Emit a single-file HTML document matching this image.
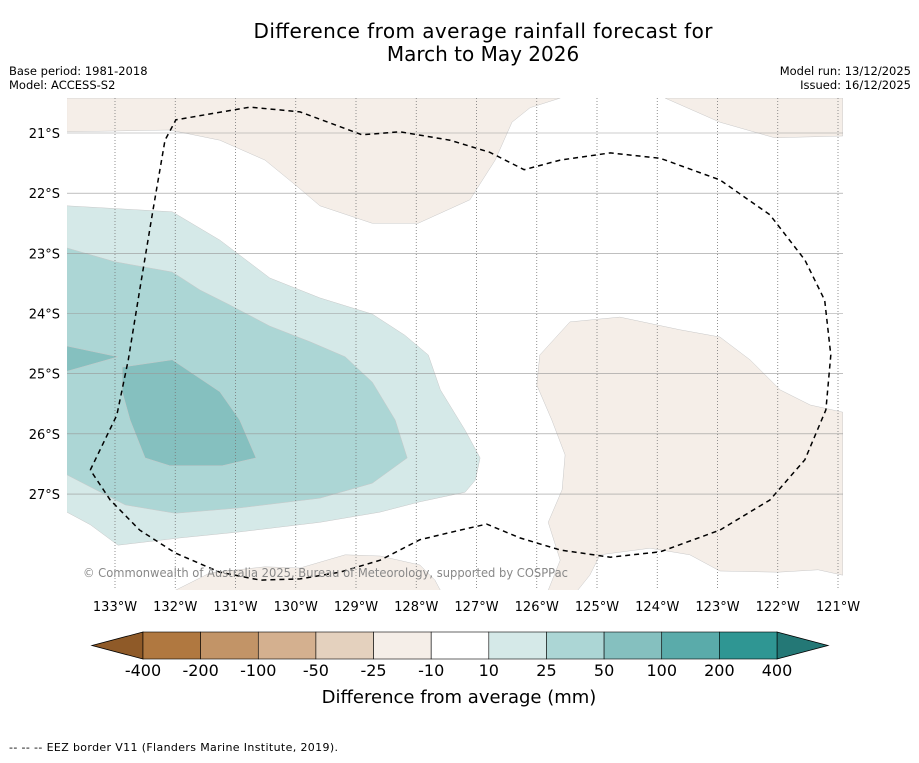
<!DOCTYPE html>
<html><head><meta charset="utf-8"><style>
body{margin:0;background:#fff;width:919px;height:758px;overflow:hidden;font-family:"Liberation Sans","DejaVu Sans",sans-serif}
svg text{font-family:"DejaVu Sans","Liberation Sans",sans-serif}
</style></head><body>
<svg id="chart" width="919" height="758" viewBox="0 0 919 758" xmlns="http://www.w3.org/2000/svg">
<rect width="919" height="758" fill="#fff"/>
<text x="483" y="38" font-size="20" text-anchor="middle" textLength="459">Difference from average rainfall forecast for</text>
<text x="483" y="61" font-size="20" text-anchor="middle">March to May 2026</text>
<text x="9" y="75" font-size="11.5">Base period: 1981-2018</text>
<text x="9" y="89" font-size="11.5">Model: ACCESS-S2</text>
<text x="911" y="75" font-size="11.5" text-anchor="end">Model run: 13/12/2025</text>
<text x="911" y="89" font-size="11.5" text-anchor="end">Issued: 16/12/2025</text>
<defs><clipPath id="mapclip"><rect x="67" y="98" width="776" height="492"/></clipPath></defs>
<g id="map" clip-path="url(#mapclip)"></g>
<g id="axes"></g>
<g id="cbar"></g>
<text x="459" y="703" font-size="18" text-anchor="middle">Difference from average (mm)</text>
<text x="9" y="751" font-size="11" textLength="329">--  --  -- EEZ border V11 (Flanders Marine Institute, 2019).</text>
</svg>
<script>
const lonTicks=[133,132,131,130,129,128,127,126,125,124,123,122,121];
const latTicks=[21,22,23,24,25,26,27];
const cbLevels=["-400","-200","-100","-50","-25","-10","10","25","50","100","200","400"];
const cbColors=["#b07840","#c29467","#d4b08f","#e4d1be","#f5eee8","#ffffff","#d5e9e8","#acd6d5","#85c0bf","#5aabaa","#2f9693"];
const brownTop=[[133.8,20.42],[125.61,20.42],[126.11,20.58],[126.41,20.82],[126.69,21.45],[127.11,22.11],[127.97,22.5],[128.73,22.5],[129.6,22.21],[130.01,21.86],[130.51,21.45],[131.26,21.12],[132.09,20.95],[133.8,20.98]];
const brownTopRight=[[123.87,20.42],[122.96,20.82],[122.05,21.08],[120.92,21.05],[120.92,20.42]];
const brownRight=[[125.95,24.69],[125.45,24.14],[124.62,24.06],[123.62,24.27],[122.96,24.39],[122.46,24.77],[121.96,25.27],[121.46,25.52],[120.92,25.64],[120.92,28.35],[121.33,28.26],[122.0,28.3],[122.96,28.28],[123.46,28.01],[124.12,27.9],[124.95,28.01],[125.12,28.35],[125.32,28.6],[125.81,28.6],[125.61,28.1],[125.81,27.47],[125.58,26.93],[125.53,26.35],[125.75,25.77],[126.0,25.19]];
const brownBottom=[[132.0,28.6],[131.42,28.31],[130.51,28.21],[129.93,28.23],[129.18,28.01],[128.6,28.03],[127.94,28.18],[127.69,28.43],[127.6,28.6]];
const tealLight=[[133.8,22.21],[132.05,22.31],[131.26,22.78],[130.43,23.41],[129.6,23.74],[128.73,24.01],[128.19,24.36],[127.8,24.69],[127.6,25.27],[127.19,25.94],[126.94,26.4],[127.02,26.77],[127.19,26.97],[127.94,27.13],[128.6,27.3],[129.6,27.47],[130.93,27.63],[131.92,27.73],[132.95,27.85],[133.41,27.51],[133.8,27.3]];
const tealMed=[[133.8,22.91],[133,23.14],[132.05,23.31],[131.59,23.61],[131.09,23.86],[130.43,24.21],[129.76,24.47],[129.18,24.72],[128.73,25.14],[128.35,25.77],[128.15,26.4],[128.73,26.82],[129.6,27.07],[130.93,27.23],[132.0,27.32],[132.83,27.18],[133.8,26.68]];
const tealDarkSliver=[[133.8,24.54],[132.95,24.72],[133.8,24.96]];
const tealDark=[[132.88,24.89],[132.05,24.77],[131.26,25.3],[130.93,25.77],[130.66,26.4],[131.22,26.53],[132.09,26.53],[132.5,26.4],[132.75,25.77],[132.88,25.3]];
const eez=[[133.41,26.6],[132.97,25.69],[132.78,24.77],[132.59,23.61],[132.37,22.28],[132.17,21.12],[131.99,20.78],[130.76,20.57],[129.93,20.65],[128.9,21.03],[128.27,20.98],[127.44,21.12],[126.78,21.32],[126.21,21.61],[125.61,21.45],[124.78,21.33],[123.95,21.42],[122.96,21.78],[122.13,22.36],[121.55,23.11],[121.22,23.78],[121.12,24.69],[121.2,25.6],[121.55,26.43],[122.13,27.1],[122.96,27.6],[123.95,27.96],[124.78,28.05],[125.61,27.93],[126.28,27.73],[126.83,27.5],[127.27,27.6],[127.94,27.76],[128.6,28.1],[129.27,28.3],[129.93,28.41],[130.59,28.43],[131.26,28.3],[132,27.98],[132.59,27.6],[133.08,27.1],[133.41,26.6]];

const NS="http://www.w3.org/2000/svg";
function xs(lonW){return 115+(133-lonW)*60.25;}
function ys(latS){return 133+(latS-21)*60.17;}
function mk(tag,attrs,parent){const e=document.createElementNS(NS,tag);for(const k in attrs)e.setAttribute(k,attrs[k]);parent.appendChild(e);return e;}
const map=document.getElementById('map'),axes=document.getElementById('axes'),cbar=document.getElementById('cbar');
function poly(pts,fill,name){
  const p=mk('polygon',{points:pts.map(q=>xs(q[0]).toFixed(1)+','+ys(q[1]).toFixed(1)).join(' '),fill:fill,stroke:'#c8c8c8','stroke-width':0.5},map);
  
  
}
poly(brownTop,cbColors[4],'contour-dry-north');
poly(brownTopRight,cbColors[4],'contour-dry-northeast');
poly(brownRight,cbColors[4],'contour-dry-east');
poly(brownBottom,cbColors[4],'contour-dry-south');
poly(tealLight,cbColors[6],'contour-wet-10-25');
poly(tealMed,cbColors[7],'contour-wet-25-50');
poly(tealDarkSliver,cbColors[8],'contour-wet-50-100-edge');
poly(tealDark,cbColors[8],'contour-wet-50-100');
lonTicks.forEach(l=>{
  const g=mk('line',{x1:xs(l),x2:xs(l),y1:98,y2:590,stroke:'#777','stroke-width':0.8,'stroke-dasharray':'1,2'},map);
  
  
  const t=mk('text',{x:xs(l),y:611,'font-size':13,'text-anchor':'middle'},axes);t.textContent=l+'°W';
  
  
});
latTicks.forEach(l=>{
  const g=mk('line',{x1:67,x2:843,y1:ys(l),y2:ys(l),stroke:'#999','stroke-width':0.6},map);
  
  
  const t=mk('text',{x:60,y:ys(l)+5,'font-size':13,'text-anchor':'end'},axes);t.textContent=l+'°S';
  
  
});
const e=mk('polyline',{points:eez.map(q=>xs(q[0]).toFixed(1)+','+ys(q[1]).toFixed(1)).join(' '),fill:'none',stroke:'#000','stroke-width':1.5,'stroke-dasharray':'5,4'},map);


const cp=mk('text',{x:83,y:577,'font-size':12,fill:'#888',textLength:485,lengthAdjust:'spacingAndGlyphs'},map);cp.textContent='© Commonwealth of Australia 2025, Bureau of Meteorology, supported by COSPPac';


const cx0=143,cx1=777,cy0=632,cy1=659,w=(cx1-cx0)/cbColors.length;
const lt=mk('polygon',{points:`${cx0},${cy0} ${cx0},${cy1} 92,645.5`,fill:'#8f5a28',stroke:'#000','stroke-width':0.8},cbar);


const rt=mk('polygon',{points:`${cx1},${cy0} ${cx1},${cy1} 828,645.5`,fill:'#247876',stroke:'#000','stroke-width':0.8},cbar);


cbColors.forEach((c,i)=>{
  const r=mk('rect',{x:cx0+i*w,y:cy0,width:w,height:cy1-cy0,fill:c,stroke:'#000','stroke-width':0.6},cbar);
  
  
});
cbLevels.forEach((s,i)=>{
  const t=mk('text',{x:cx0+i*w,y:676,'font-size':16,'text-anchor':'middle'},cbar);t.textContent=s;
  
  
});
</script>
</body></html>
